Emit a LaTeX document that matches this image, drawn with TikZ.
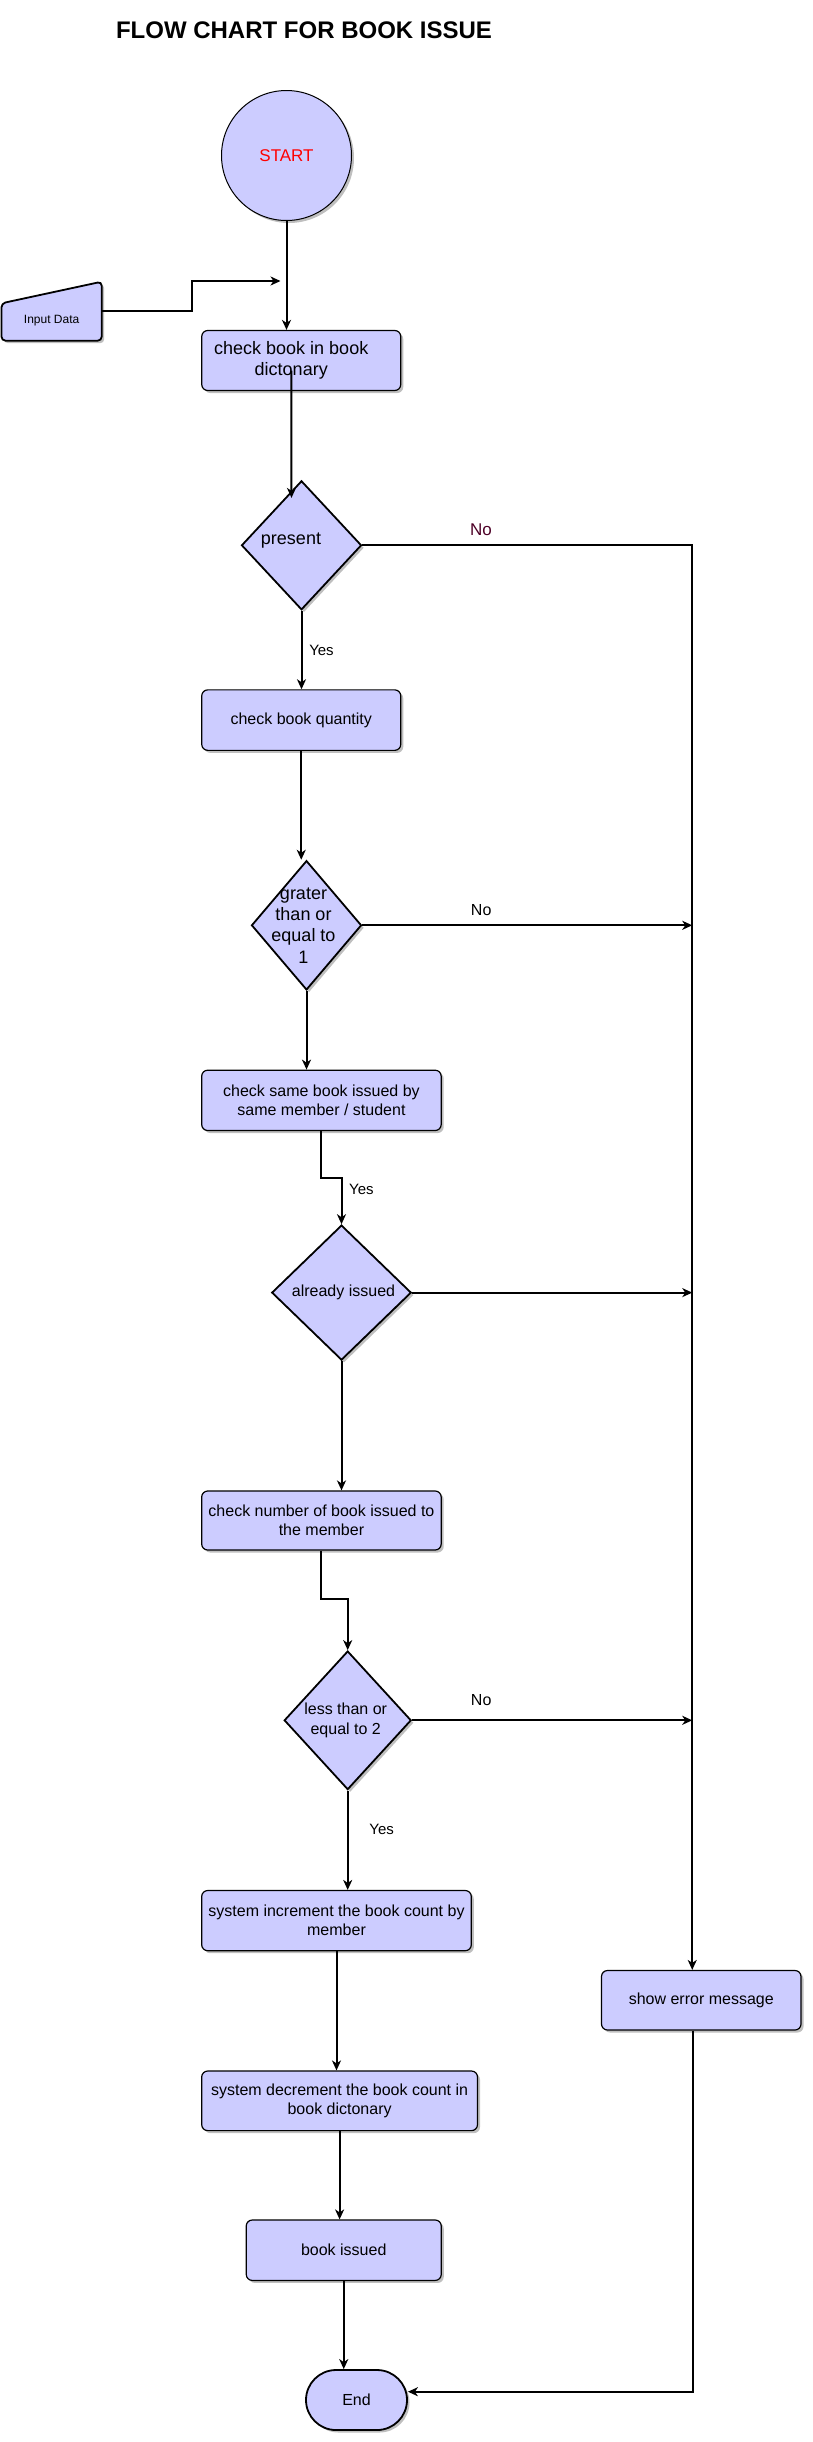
\documentclass[tikz,border=0pt]{standalone}
\usepackage{fontspec}
\setmainfont{Liberation Sans}
\usetikzlibrary{shapes.geometric, arrows.meta, calc, shadows}
\definecolor{boxfill}{HTML}{CCCCFF}
\definecolor{nocol}{HTML}{4D0026}
\tikzset{
  shad/.style={drop shadow={shadow xshift=2.5pt, shadow yshift=-2.5pt, opacity=0.25, fill=black}},
  box/.style={rectangle, rounded corners=6pt, draw, line width=1.2pt, fill=boxfill, shad,
    align=center, inner sep=2pt, font=\fontsize{16}{19.2}\selectfont},
  dia/.style={diamond, draw, line width=1.8pt, fill=boxfill, shad, inner sep=0pt},
  dtext/.style={align=center, font=\fontsize{16}{19.2}\selectfont},
  conn/.style={line width=2pt, -{Stealth[length=10pt, width=9pt, inset=3pt]}},
  lbl/.style={font=\fontsize{15}{18}\selectfont},
}
\begin{document}
\begin{tikzpicture}[x=1pt, y=-1pt]
    \useasboundingbox (0,0) rectangle (813,2442);
    \node[font=\bfseries\fontsize{24}{28}\selectfont] (title) at (304,30) {FLOW CHART FOR BOOK ISSUE}; % заголовок
    \node[circle, draw, line width=1pt, fill=boxfill, shad, minimum size=130pt, text=red,
        font=\fontsize{17}{20}\selectfont] (start) at (286.5,155.5) {START};
    % ввод данных
    \draw[line width=1.8pt, fill=boxfill, rounded corners=4pt, shad]
        (1.5,303.3) -- (101.7,281.7) -- (101.7,340.7) -- (1.5,340.7) -- cycle;
    \node[minimum width=100.2pt, minimum height=39pt, inner sep=0pt,
        font=\fontsize{12}{14}\selectfont] (inp) at (51.6,321) {Input Data};
    \coordinate (a1) at (280.5,281);

    \node[box, minimum width=199pt, minimum height=60pt,
        label={[align=center, font=\fontsize{18}{21}\selectfont, xshift=-10pt]center:check book in book\\dictonary}]
        (chk) at (301.25,360.5) {};
    \node[dia, minimum width=120pt, minimum height=129pt,
        label={[dtext, font=\fontsize{18}{21}\selectfont, xshift=-10.5pt, yshift=5pt]center:present}]
        (pres) at (301.5,545.3) {};
    \node[box, minimum width=199pt, minimum height=60.5pt] (qty) at (301.25,720.1) {check book quantity};
    \node[dia, minimum width=110pt, minimum height=129.3pt,
        label={[dtext, font=\fontsize{18}{21.3}\selectfont, xshift=-3pt]center:grater\\than or\\equal to\\1}]
        (grat) at (306.5,925.3) {};
    \node[box, minimum width=239.5pt, minimum height=60.3pt] (same) at (321.45,1100.35)
        {check same book issued by\\same member / student};
    \node[dia, minimum width=139.5pt, minimum height=135pt,
        label={[dtext, xshift=2pt]center:already issued}] (alr) at (341.5,1292.6) {};
    \node[box, minimum width=239.5pt, minimum height=59pt] (num) at (321.45,1520.5)
        {check number of book issued to\\the member};
    \node[dia, minimum width=127pt, minimum height=138.6pt,
        label={[dtext, xshift=-2pt]center:less than or\\equal to 2}] (less) at (347.7,1720.3) {};
    \node[box, minimum width=269.6pt, minimum height=60.2pt] (inc) at (336.5,1920.6)
        {system increment the book count by\\member};
    \node[box, minimum width=275.8pt, minimum height=59.6pt] (dec) at (339.6,2100.8)
        {system decrement the book count in\\book dictonary};
    \node[box, minimum width=195pt, minimum height=60.4pt] (iss) at (343.75,2250.2) {book issued};
    \node[box, minimum width=199.5pt, minimum height=59.5pt] (err) at (701.25,2000.25) {show error message};
    \node[box, rounded corners=30pt, line width=1.8pt, minimum width=101pt, minimum height=60pt]
        (finish) at (356.5,2400) {End};
    \coordinate (bus) at ($(err.north)+(-9,0)$);

    % стрелки
    \draw[conn] ($(inp.east)+(0,-10.3)$) -- ++(90,0) |- (a1);
    \foreach \a/\b in {start/chk, pres/qty, qty/grat, grat/same, alr/num, less/inc, inc/dec, dec/iss, iss/finish} {
        \draw[conn] (\a.south) -- (\a.south |- \b.north);
    }
    \draw[conn] ($(chk.center)+(-10,10)$) -- ($(pres.north)+(-10,18)$);
    \draw[conn] (pres.east) -| (bus);
    \foreach \d in {grat, alr, less} {
        \draw[conn] (\d.east) -- (\d.east -| bus);
    }
    \draw[conn] (same.south) -- ++(0,47) -| (alr.north);
    \draw[conn] (num.south) -- ++(0,48.5) -| (less.north);
    \draw[conn] ($(err.south)+(-8,0)$) |- ($(finish.east)+(0,-8.3)$);

    % подписи
    \node[lbl, text=nocol, font=\fontsize{17}{20}\selectfont] (no1) at (481,530) {No};
    \node[lbl] (yes1) at (321.5,650) {Yes};
    \node[lbl, font=\fontsize{16}{19}\selectfont] (no2) at (481.2,910) {No};
    \node[lbl] (yes2) at (361.4,1189.6) {Yes};
    \node[lbl, font=\fontsize{16}{19}\selectfont] (no3) at (481.2,1700.4) {No};
    \node[lbl] (yes3) at (381.6,1829.8) {Yes};
\end{tikzpicture}
\end{document}
